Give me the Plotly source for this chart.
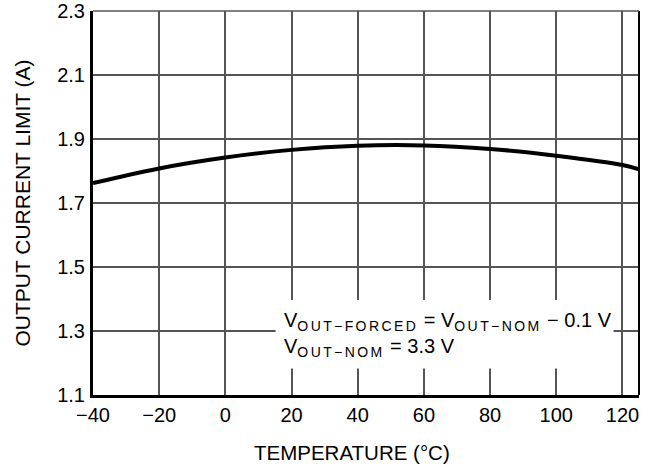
import plotly.graph_objects as go

temperature_c = [-40, -20, 0, 20, 40, 60, 80, 100, 120, 125]
current_limit_a = [1.762, 1.808, 1.842, 1.866, 1.879, 1.880, 1.869, 1.848, 1.819, 1.805]

x_ticks = [-40, -20, 0, 20, 40, 60, 80, 100, 120]
y_ticks = [1.1, 1.3, 1.5, 1.7, 1.9, 2.1, 2.3]
y_tick_text = ["1.1", "1.3", "1.5", "1.7", "1.9", "2.1", "2.3"]

FONT = "Liberation Sans, Arial, sans-serif"
SUB = '<sub><span style="font-size:14px;letter-spacing:2.4px">{}</span></sub>'

label_text = ("V" + SUB.format("OUT−FORCED") + " = V" + SUB.format("OUT−NOM")
              + " − 0.1 V<br>V" + SUB.format("OUT−NOM") + " = 3.3 V")

fig = go.Figure()
fig.add_trace(go.Scatter(
    x=temperature_c, y=current_limit_a, mode="lines",
    line=dict(color="black", width=4, shape="spline", smoothing=1.0),
    hoverinfo="skip", showlegend=False,
))

fig.update_layout(
    width=652, height=467,
    margin=dict(l=93, r=13, t=11, b=72),
    paper_bgcolor="white", plot_bgcolor="white",
    font=dict(family=FONT, size=20, color="black"),
    xaxis=dict(
        range=[-40, 125], tickvals=x_ticks, showgrid=True, automargin=False,
        gridcolor="#555555", gridwidth=1.5, showline=True, linecolor="black",
        linewidth=3, ticks="", zeroline=False, tickfont=dict(size=20),
    ),
    yaxis=dict(
        range=[1.1, 2.3], tickvals=y_ticks, ticktext=y_tick_text, showgrid=True,
        automargin=False,
        gridcolor="#555555", gridwidth=1.5, showline=True, linecolor="black",
        linewidth=3, ticks="", zeroline=False, ticklabelstandoff=1,
        tickfont=dict(size=20),
    ),
    shapes=[
        dict(type="line", xref="paper", yref="paper", x0=1, x1=1, y0=0, y1=1,
             line=dict(color="black", width=2), layer="above"),
        dict(type="line", xref="paper", yref="paper", x0=0, x1=1, y0=1, y1=1,
             line=dict(color="#555555", width=1.5), layer="above"),
        dict(type="rect", xref="x", yref="y", x0=15.2, x1=117.3, y0=1.183, y1=1.397,
             fillcolor="white", line=dict(width=0), layer="above"),
    ],
    annotations=[
        dict(xref="x", yref="y", x=17.0, y=1.29, xanchor="left", yanchor="middle",
             align="left", showarrow=False, text=label_text, font=dict(size=20)),
        dict(xref="paper", yref="paper", x=0.5, y=0, xshift=-14, yshift=-57,
             xanchor="center", yanchor="middle", showarrow=False,
             text="TEMPERATURE (°C)", font=dict(size=20.5)),
        dict(xref="paper", yref="paper", x=0, y=0.5, xshift=-71.5,
             xanchor="center", yanchor="middle", showarrow=False, textangle=-90,
             text="OUTPUT CURRENT LIMIT (A)", font=dict(size=21)),
    ],
)

fig.write_html("out.html")
